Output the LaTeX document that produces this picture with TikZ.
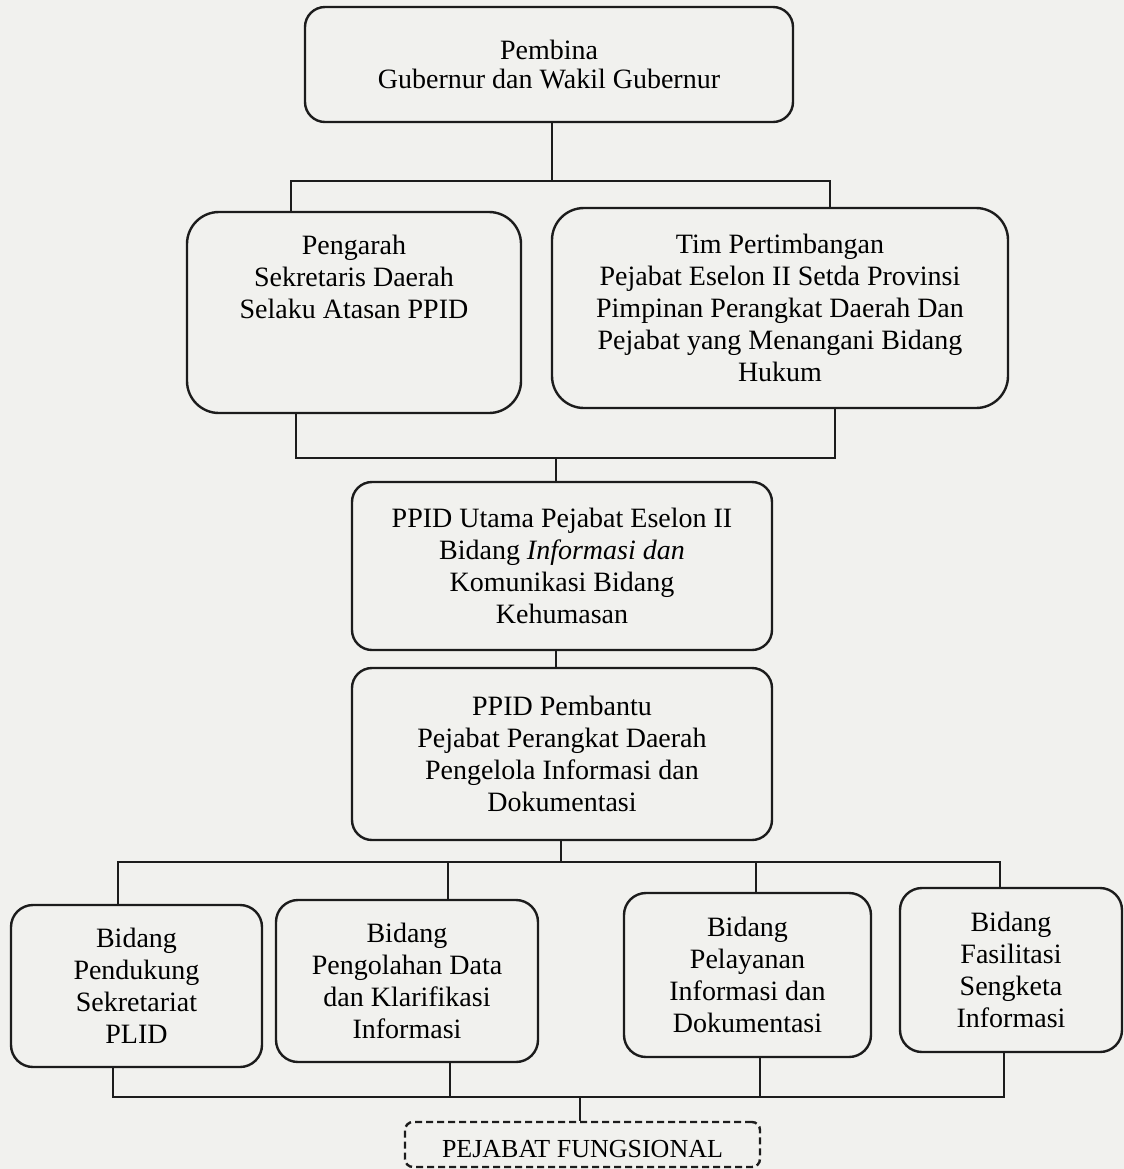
\documentclass[tikz,border=0pt]{standalone}
\usepackage{fontspec}
\setmainfont{Liberation Serif}
\definecolor{ink}{RGB}{28,28,28}
\definecolor{paper}{RGB}{241,241,238}

\begin{document}
\begin{tikzpicture}[x=0.5pt, y=-0.5pt,
    unit/.style={draw=ink, line width=1.2pt, rounded corners=10pt, align=center,
        inner sep=0pt, font=\fontsize{14}{16}\selectfont},
    field/.style={unit, minimum height=81pt, rounded corners=11pt},
    link/.style={draw=ink, line width=1.2pt}]
    \useasboundingbox (0,0) rectangle (1124,1169);
    \fill[paper] (0,0) rectangle (1124,1169);

    % we draw the top levels
    \node[unit, minimum width=244pt, minimum height=57.5pt, font=\fontsize{14}{14.5}\selectfont]
        (pembina) at (549,64.5) {Pembina\\Gubernur dan Wakil Gubernur};
    \node[unit, minimum width=167pt, minimum height=100.5pt, rounded corners=16pt, text depth=36pt]
        (pengarah) at (354,312.5) {Pengarah\\Sekretaris Daerah\\Selaku Atasan PPID};
    \node[unit, minimum width=228pt, minimum height=100pt, rounded corners=16pt]
        (tim) at (780,308) {Tim Pertimbangan\\Pejabat Eselon II Setda Provinsi\\Pimpinan Perangkat Daerah Dan\\Pejabat yang Menangani Bidang\\Hukum};

    % we draw the two PPID boxes
    \node[unit, minimum width=210pt, minimum height=84pt]
        (utama) at (562,566) {PPID Utama Pejabat Eselon II\\Bidang \textit{Informasi dan}\\Komunikasi Bidang\\Kehumasan};
    \node[unit, minimum width=210pt, minimum height=86pt]
        (pembantu) at (562,754) {PPID Pembantu\\Pejabat Perangkat Daerah\\Pengelola Informasi dan\\Dokumentasi};

    % we draw the four fields
    \node[field, minimum width=125.5pt] (bid1) at (136.5,986) {Bidang\\Pendukung\\Sekretariat\\PLID};
    \node[field, minimum width=131pt] (bid2) at (407,981) {Bidang\\Pengolahan Data\\dan Klarifikasi\\Informasi};
    \node[field, minimum width=123.5pt, minimum height=82pt] (bid3) at (747.5,975) {Bidang\\Pelayanan\\Informasi dan\\Dokumentasi};
    \node[field, minimum width=111pt, minimum height=82pt] (bid4) at (1011,970) {Bidang\\Fasilitasi\\Sengketa\\Informasi};

    \node[unit, dashed, dash pattern=on 3.5pt off 2pt, rounded corners=4pt, minimum width=177.5pt,
        minimum height=22.5pt, text height=12.5pt, text depth=0pt, font=\fontsize{13}{15}\selectfont]
        (fungsional) at (582.5,1144.5) {PEJABAT FUNGSIONAL};

    % we draw the connectors (bus lines)
    \coordinate (a1) at (291,181);
    \coordinate (a2) at (552,181);
    \coordinate (a3) at (830,181);
    \draw[link] (a2 |- pembina.south) -- (a2);
    \draw[link] (a1 |- pengarah.north) |- (a3) -- (a3 |- tim.north);

    \coordinate (b1) at (296,458);
    \coordinate (b2) at (556,458);
    \coordinate (b3) at (835,458);
    \draw[link] (b1 |- pengarah.south) |- (b3) -- (b3 |- tim.south);
    \draw[link] (b2) -- (b2 |- utama.north);
    \draw[link] (b2 |- utama.south) -- (b2 |- pembantu.north);

    \coordinate (c0) at (561,862);
    \coordinate (c1) at (118,862);
    \coordinate (c2) at (448,862);
    \coordinate (c3) at (756,862);
    \coordinate (c4) at (1000,862);
    \draw[link] (c0 |- pembantu.south) -- (c0);
    \draw[link] (c1 |- bid1.north) |- (c4) -- (c4 |- bid4.north);
    \draw[link] (c2) -- (c2 |- bid2.north);
    \draw[link] (c3) -- (c3 |- bid3.north);

    \coordinate (d0) at (580,1097);
    \coordinate (d1) at (113,1097);
    \coordinate (d2) at (450,1097);
    \coordinate (d3) at (760,1097);
    \coordinate (d4) at (1004,1097);
    \draw[link] (d1 |- bid1.south) |- (d4) -- (d4 |- bid4.south);
    \draw[link] (d2 |- bid2.south) -- (d2);
    \draw[link] (d3 |- bid3.south) -- (d3);
    \draw[link] (d0) -- (d0 |- fungsional.north);
\end{tikzpicture}
\end{document}
